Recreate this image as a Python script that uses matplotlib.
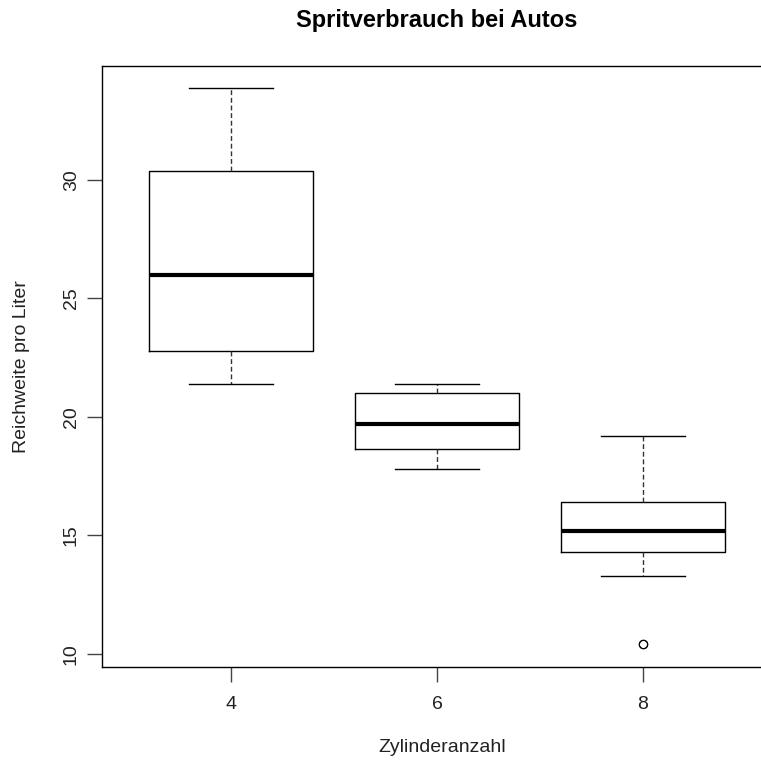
#!/usr/bin/env python3
"""Boxplot: Spritverbrauch bei Autos (R base-graphics look)."""

import matplotlib
matplotlib.use("Agg")
import matplotlib.pyplot as plt

# Five-number summaries (R boxplot hinges) per Zylinderanzahl
cylinders = ["4", "6", "8"]
whisker_low = [21.4, 17.8, 13.3]
q1 = [22.8, 18.65, 14.3]
median = [26.0, 19.7, 15.2]
q3 = [30.4, 21.0, 16.4]
whisker_high = [33.9, 21.4, 19.2]
outliers = [[], [], [10.4, 10.4]]

plt.rcParams.update({
    "font.family": ["Liberation Sans", "DejaVu Sans"],
    "font.size": 14,
})

W, H = 761, 762
fig = plt.figure(figsize=(W / 100, H / 100), dpi=100)
fig.patch.set_facecolor("white")

# axes box: left 102 px, right beyond the image edge (R output was cropped)
left, right, top, bottom = 102, 772, 66, 667
ax = fig.add_axes([left / W, 1 - bottom / H, (right - left) / W, (bottom - top) / H])

stats = []
for i, lab in enumerate(cylinders):
    stats.append({
        "label": lab,
        "whislo": whisker_low[i],
        "q1": q1[i],
        "med": median[i],
        "q3": q3[i],
        "whishi": whisker_high[i],
        "fliers": outliers[i],
    })

ax.bxp(
    stats,
    positions=[1, 2, 3],
    widths=0.8,
    showfliers=True,
    boxprops=dict(color="black", lw=1.0),
    whiskerprops=dict(color="#333333", lw=1.0, ls=(0, (3.5, 2.0))),
    capprops=dict(color="black", lw=1.0),
    capwidths=0.41,
    medianprops=dict(color="black", lw=3.0, solid_capstyle="butt"),
    flierprops=dict(marker="o", markersize=6, markerfacecolor="none",
                    markeredgecolor="black", markeredgewidth=0.8),
)

ax.set_xlim(0.374, 3.626)
ax.set_ylim(9.45, 34.81)
ax.set_yticks([10, 15, 20, 25, 30])
ax.set_yticklabels(["10", "15", "20", "25", "30"], rotation=90, va="center")
ax.set_xticks([1, 2, 3])
ax.set_xticklabels(cylinders)

for s in ax.spines.values():
    s.set_color("black")
    s.set_linewidth(1.0)

ax.tick_params(axis="both", length=11, width=1.0, color="#444444",
               labelsize=14, labelcolor="#222222")
ax.tick_params(axis="x", pad=10)
ax.tick_params(axis="y", pad=5)

fig.text(437 / W, 1 - 20 / H, "Spritverbrauch bei Autos", ha="center",
         va="center", fontsize=17, fontweight="bold", color="black")
fig.text(442 / W, 1 - 748 / H, "Zylinderanzahl", ha="center", va="center",
         fontsize=14, color="#222222")
fig.text(22 / W, 1 - 367 / H, "Reichweite pro Liter", ha="center",
         va="center", rotation=90, fontsize=14, color="#222222")

fig.savefig("out.png", dpi=100, facecolor="white")
